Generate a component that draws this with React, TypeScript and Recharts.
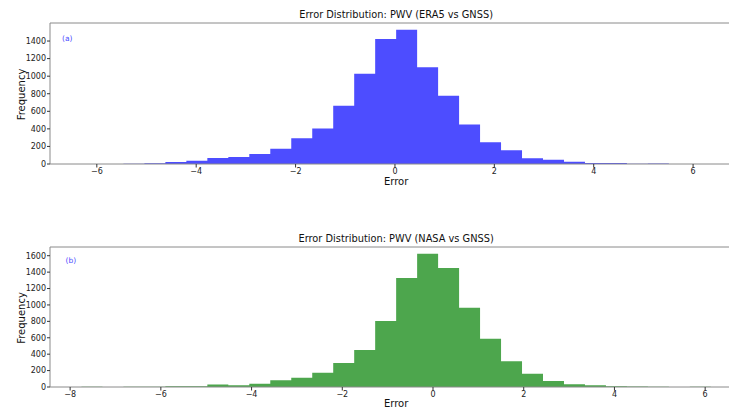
import React from "react";
import { AreaChart, Area, XAxis, YAxis, ReferenceLine, Label } from "recharts";

// ERA5 - GNSS error histogram (30 bins)
const era5BinStart = -6.309;
const era5BinWidth = 0.4222;
const era5Counts = [
  1, 1, 4, 9, 22, 38, 68, 80, 114, 175, 293, 403, 662, 1027, 1423, 1529, 1103,
  776, 449, 247, 156, 65, 49, 27, 11, 10, 3, 6, 0, 1,
];
const era5Ticks = [-6, -4, -2, 0, 2, 4, 6];
const era5FreqTicks = [0, 200, 400, 600, 800, 1000, 1200, 1400];

// NASA - GNSS error histogram (30 bins)
const nasaBinStart = -7.75;
const nasaBinWidth = 0.4625;
const nasaCounts = [
  3, 0, 2, 2, 8, 8, 29, 20, 41, 81, 114, 175, 293, 451, 804, 1328, 1625, 1450,
  967, 589, 313, 163, 73, 33, 21, 8, 6, 2, 0, 2,
];
const nasaTicks = [-8, -6, -4, -2, 0, 2, 4, 6];
const nasaFreqTicks = [0, 200, 400, 600, 800, 1000, 1200, 1400, 1600];

const FONT = "DejaVu Sans";
const SPINE = "#8a8a8a";

const toSteps = (start: number, width: number, counts: number[]) => {
  const rows = counts.map((c, i) => ({ x: start + i * width, count: c }));
  rows.push({ x: start + counts.length * width, count: counts[counts.length - 1] });
  return rows;
};

const fmt = (v: number) => (v < 0 ? "\u2212" + Math.abs(v) : String(v));

type HistProps = {
  top: number;
  title: string;
  tag: string;
  tagPos: [number, number];
  color: string;
  start: number;
  width: number;
  counts: number[];
  xTicks: number[];
  yTicks: number[];
  plotHeight: number;
  labelOffset: number;
};

const Hist = ({
  top,
  title,
  tag,
  tagPos,
  color,
  start,
  width,
  counts,
  xTicks,
  yTicks,
  plotHeight,
  labelOffset,
}: HistProps) => {
  const data = toSteps(start, width, counts);
  const span = counts.length * width;
  const xDomain = [start - 0.05 * span, start + span + 0.05 * span];
  const yMax = Math.max(...counts) * 1.05;
  const marginTop = 23;
  const axisH = 27;

  return (
    <div style={{ position: "absolute", left: 0, top, width: 760 }}>
      <AreaChart
        width={760}
        height={marginTop + plotHeight + axisH}
        data={data}
        margin={{ top: marginTop, right: 17.7, bottom: 0, left: 0 }}
      >
        <XAxis
          dataKey="x"
          type="number"
          domain={xDomain}
          allowDataOverflow
          ticks={xTicks}
          interval={0}
          tickFormatter={fmt}
          height={axisH}
          tickSize={3.5}
          tickMargin={1}
          stroke={SPINE}
          tick={{ fontSize: 8, fill: "#222", fontFamily: FONT }}
          tickLine={{ stroke: "#333" }}
        >
          <Label
            value="Error"
            position="insideBottom"
            offset={labelOffset}
            style={{ fontSize: 10, fill: "#111", fontFamily: FONT }}
          />
        </XAxis>
        <YAxis
          type="number"
          domain={[0, yMax]}
          allowDataOverflow
          ticks={yTicks}
          interval={0}
          width={50}
          tickSize={3}
          tickMargin={1}
          stroke={SPINE}
          tick={{ fontSize: 8, fill: "#222", fontFamily: FONT }}
          tickLine={{ stroke: "#333" }}
        >
          <Label
            content={(p: any) => {
              const vb = p.viewBox || {};
              const cy = vb.y + vb.height / 2 + 1;
              return (
                <text
                  x={21}
                  y={cy}
                  transform={`rotate(-90, 21, ${cy})`}
                  textAnchor="middle"
                  dominantBaseline="central"
                  fontSize={10}
                  fill="#111"
                  fontFamily={FONT}
                >
                  Frequency
                </text>
              );
            }}
          />
        </YAxis>
        <Area
          type="stepAfter"
          dataKey="count"
          stroke="none"
          fill={color}
          fillOpacity={1}
          dot={false}
          activeDot={false}
          isAnimationActive={false}
        />
        <ReferenceLine y={yMax} stroke={SPINE} ifOverflow="visible">
          <Label
            value={title}
            position="top"
            offset={5}
            style={{ fontSize: 9.8, fill: "#111", fontFamily: FONT }}
          />
        </ReferenceLine>
      </AreaChart>
      <span
        style={{
          position: "absolute",
          left: tagPos[0],
          top: tagPos[1],
          fontSize: 7.5,
          lineHeight: "8px",
          color: "#4d4dff",
          fontFamily: FONT,
        }}
      >
        {tag}
      </span>
    </div>
  );
};

export default function App() {
  return (
    <div
      style={{
        position: "absolute",
        left: 0,
        top: 0,
        width: 729,
        height: 408,
        overflow: "hidden",
        background: "#fff",
      }}
    >
      <Hist
        top={0}
        title="Error Distribution: PWV (ERA5 vs GNSS)"
        tag="(a)"
        tagPos={[62, 34.5]}
        color="#4d4dff"
        start={era5BinStart}
        width={era5BinWidth}
        counts={era5Counts}
        xTicks={era5Ticks}
        yTicks={era5FreqTicks}
        plotHeight={141}
        labelOffset={6.5}
      />
      <Hist
        top={224}
        title="Error Distribution: PWV (NASA vs GNSS)"
        tag="(b)"
        tagPos={[65.5, 33]}
        color="#4da64d"
        start={nasaBinStart}
        width={nasaBinWidth}
        counts={nasaCounts}
        xTicks={nasaTicks}
        yTicks={nasaFreqTicks}
        plotHeight={140}
        labelOffset={7.5}
      />
    </div>
  );
}
